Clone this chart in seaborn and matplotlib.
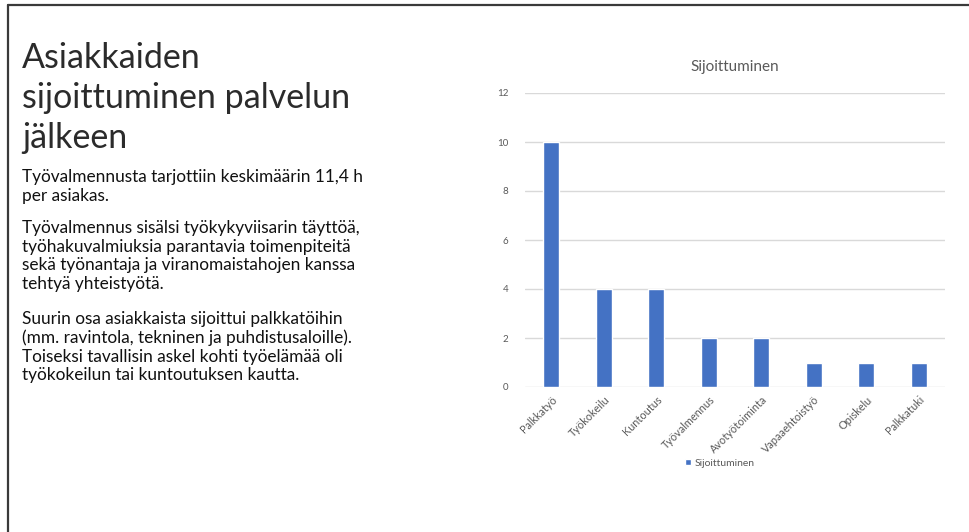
import matplotlib
matplotlib.use("Agg")
import matplotlib.pyplot as plt
from matplotlib.lines import Line2D
import seaborn as sns
import pandas as pd

categories = ["Palkkatyö", "Työkokeilu", "Kuntoutus", "Työvalmennus",
              "Avotyötoiminta", "Vapaaehtoistyö", "Opiskelu", "Palkkatuki"]
values = [10, 4, 4, 2, 2, 1, 1, 1]
series_name = "Sijoittuminen"
y_ticks = [0, 2, 4, 6, 8, 10, 12]

heading_lines = ["Asiakkaiden", "sijoittuminen palvelun", "jälkeen"]
paragraphs = [
    "Työvalmennusta tarjottiin keskimäärin 11,4 h\nper asiakas.",
    "Työvalmennus sisälsi työkykyviisarin täyttöä,\ntyöhakuvalmiuksia parantavia toimenpiteitä\n"
    "sekä työnantaja ja viranomaistahojen kanssa\ntehtyä yhteistyötä.",
    "Suurin osa asiakkaista sijoittui palkkatöihin\n(mm. ravintola, tekninen ja puhdistusaloille).\n"
    "Toiseksi tavallisin askel kohti työelämää oli\ntyökokeilun tai kuntoutuksen kautta.",
]

sns.set_theme(style="white")
plt.rcParams["font.family"] = ["Lato", "DejaVu Sans"]

W, H = 970, 532
fig = plt.figure(figsize=(W / 100, H / 100), dpi=100)
fig.patch.set_facecolor("white")

def fx(px):
    return px / W

def fy(py):
    return 1 - py / H

# slide frame (top and left edges)
fig.add_artist(Line2D([fx(8), 1.0], [fy(5), fy(5)], transform=fig.transFigure,
                      color="#3a3a3a", lw=1.6))
fig.add_artist(Line2D([fx(8), fx(8)], [fy(5), 0.0], transform=fig.transFigure,
                      color="#3a3a3a", lw=1.6))

# slide heading
for i, line in enumerate(heading_lines):
    fig.text(fx(22), fy(58 + i * 40), line, fontsize=24.5, color="#2b2b2b",
             va="center", ha="left")

# body paragraphs
para_tops = [169, 220, 311]
for top, txt in zip(para_tops, paragraphs):
    fig.text(fx(22), fy(top), txt, fontsize=12.4, color="#111111",
             va="top", ha="left", linespacing=1.2)

# chart
ax = fig.add_axes([fx(525), fy(387), fx(945) - fx(525), fy(93) - fy(387)])
df = pd.DataFrame({"Kategoria": categories, series_name: values})
sns.barplot(data=df, x="Kategoria", y=series_name, color="#4472C4",
            width=0.3, saturation=1, ax=ax, label=series_name)

ax.set_ylim(0, 12)
ax.set_yticks(y_ticks)
ax.set_xlim(-0.5, len(categories) - 0.5)
ax.yaxis.grid(True, color="#d9d9d9", lw=1)
ax.set_axisbelow(True)
for s in ax.spines.values():
    s.set_visible(False)
ax.set_xlabel("")
ax.set_ylabel("")
ax.tick_params(axis="y", length=0, pad=12, labelsize=7, labelcolor="#595959")
ax.tick_params(axis="x", length=0, pad=5, labelsize=7.8, labelcolor="#595959")
for lbl in ax.get_xticklabels():
    lbl.set_rotation(45)
    lbl.set_ha("right")
    lbl.set_va("top")
    lbl.set_rotation_mode("anchor")

ax.set_title(series_name, fontsize=11, color="#595959", pad=16)

leg = ax.legend(loc="center", bbox_to_anchor=(fx(720), fy(463)),
                bbox_transform=fig.transFigure, frameon=False, fontsize=7.5,
                handlelength=0.55, handleheight=0.55, handletextpad=0.4)
for t in leg.get_texts():
    t.set_color("#595959")

fig.savefig("out.png", dpi=100, facecolor="white")
